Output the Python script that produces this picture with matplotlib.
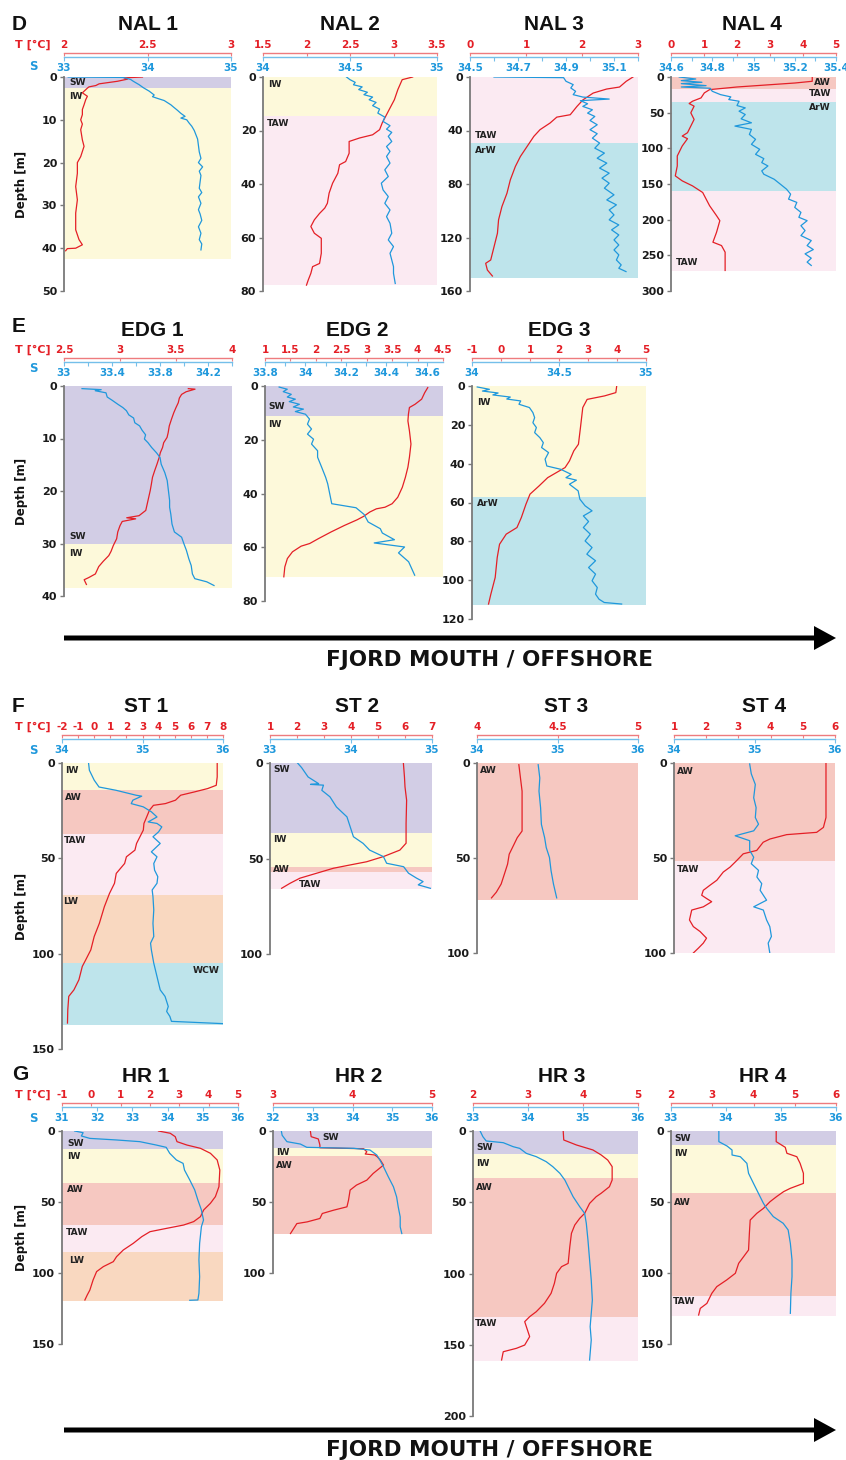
import matplotlib.pyplot as plt
from matplotlib.patches import FancyArrow
import numpy as np

W, H = 846, 1460
RED = '#e41f26'
BLUE = '#1f98dc'
RED_AX = '#ee7b7e'
BLUE_AX = '#74bfea'
SHADE = {'SW': '#d2cde5', 'IW': '#fdf9da', 'TAW': '#fbeaf2', 'ArW': '#bee4eb',
         'WCW': '#bee4eb', 'AW': '#f6c8c1', 'LW': '#f9d8c0'}

# ---------------- profiles: (depth m, value) ----------------
nal1_t = [(0, 2.47), (0.2, 2.36), (0.5, 2.38), (1.0, 2.32), (1.6, 2.21), (2.0, 2.19), (2.3, 2.15),
          (2.6, 2.14), (3.7, 2.11), (4.5, 2.14), (5.3, 2.13), (6.5, 2.12), (7.6, 2.11), (8.8, 2.11),
          (10, 2.10), (11, 2.11), (12.3, 2.10), (14.7, 2.11), (16.2, 2.12), (18.6, 2.10), (20, 2.08),
          (22.5, 2.08), (25.6, 2.07), (28.7, 2.08), (31.8, 2.07), (35.7, 2.07), (38, 2.09),
          (39.2, 2.11), (40, 2.07), (40.1, 2.02), (40.6, 2.01)]
nal1_s = [(0, 33.05), (0.1, 33.7), (0.3, 33.75), (0.6, 33.8), (1.0, 33.83), (1.8, 33.9), (2.5, 33.95),
          (3.3, 34.02), (4.2, 34.08), (4.6, 34.06), (5.0, 34.12), (5.5, 34.2), (6.0, 34.24),
          (6.5, 34.28), (7.0, 34.31), (7.8, 34.36), (8.5, 34.40), (9.2, 34.45), (9.6, 34.40),
          (10.0, 34.47), (10.8, 34.50), (11.5, 34.53), (12.5, 34.56), (13.5, 34.58), (14.5, 34.60),
          (16, 34.61), (17.5, 34.62), (19, 34.64), (20, 34.61), (21, 34.66), (22, 34.62), (23, 34.64),
          (24.5, 34.63), (26, 34.62), (27, 34.65), (28, 34.61), (29.5, 34.64), (31, 34.61),
          (32, 34.63), (33.5, 34.65), (35, 34.61), (36.5, 34.64), (38, 34.62), (39, 34.65), (40.4, 34.64)]

nal2_t = [(0, 3.22), (1.0, 3.10), (4.7, 3.05), (8.5, 3.01), (12.2, 2.95), (14.7, 2.91), (17.2, 2.87),
          (19.7, 2.84), (21.6, 2.76), (22.8, 2.61), (24.1, 2.49), (28.5, 2.49), (31.6, 2.45),
          (32.8, 2.38), (36, 2.36), (39.7, 2.30), (43.4, 2.26), (47.2, 2.24), (49, 2.21), (51, 2.15),
          (53.4, 2.09), (55.9, 2.05), (58.4, 2.09), (60.3, 2.17), (65.9, 2.17), (69.7, 2.15),
          (70.9, 2.07), (73.4, 2.05), (75.9, 2.02), (77.8, 2.0)]
nal2_s = [(0, 34.48), (1, 34.50), (2, 34.53), (2.9, 34.52), (3.7, 34.57), (4.7, 34.55), (5.7, 34.60),
          (6.6, 34.58), (7.5, 34.63), (8.5, 34.61), (9.5, 34.65), (10.7, 34.63), (12, 34.67),
          (13.5, 34.66), (15, 34.70), (16.6, 34.69), (18.2, 34.73), (19.5, 34.71), (20.7, 34.74),
          (22.2, 34.72), (24.1, 34.74), (26, 34.71), (27.8, 34.73), (29.7, 34.71), (32.2, 34.73),
          (34.7, 34.70), (37.2, 34.72), (39.7, 34.68), (42.2, 34.69), (44.7, 34.72), (47.2, 34.70),
          (49.7, 34.73), (52.2, 34.71), (54.7, 34.73), (58.4, 34.74), (60.9, 34.72), (63.4, 34.75),
          (65.9, 34.73), (68.4, 34.74), (70.9, 34.75), (73.4, 34.75), (77.2, 34.76)]

nal3_t = [(0, 2.91), (3.2, 2.79), (7.5, 2.67), (9, 2.44), (12, 2.20), (17, 2.02), (22, 1.91),
          (28.2, 1.79), (30, 1.55), (34.4, 1.43), (39.4, 1.25), (44.4, 1.14), (51.9, 1.02),
          (59.4, 0.90), (66.9, 0.81), (76.9, 0.72), (86.9, 0.66), (96.9, 0.57), (106.8, 0.51),
          (116.8, 0.49), (126.8, 0.43), (136.8, 0.37), (139.3, 0.28), (144.3, 0.31), (148.8, 0.40)]
nal3_s = [(0, 34.60), (0.5, 34.89), (3.2, 34.90), (5.7, 34.93), (8.2, 34.92), (10.7, 34.94),
          (13.2, 34.93), (15, 34.97), (16.5, 35.08), (17.7, 34.96), (20, 34.99), (22, 34.97),
          (24.5, 35.01), (27, 34.99), (29.5, 35.02), (32.5, 35.0), (35.7, 35.03), (39.4, 35.0),
          (42.4, 35.03), (45.7, 35.01), (49.4, 35.04), (53.2, 35.02), (56.9, 35.06), (60.7, 35.03),
          (64.4, 35.07), (68.1, 35.04), (71.9, 35.08), (75.6, 35.05), (79.4, 35.08), (83.1, 35.06),
          (88.1, 35.10), (91.9, 35.07), (95.6, 35.11), (99.4, 35.08), (103.1, 35.10), (106.8, 35.08),
          (110.6, 35.12), (114.3, 35.09), (118.1, 35.12), (121.8, 35.10), (125.6, 35.12),
          (129.3, 35.10), (133, 35.12), (136.8, 35.11), (140.5, 35.13), (143, 35.12), (145.5, 35.15)]

nal4_t = [(0, 4.28), (6, 4.28), (8.4, 3.76), (14, 2.0), (17.7, 1.17), (22.3, 1.01), (29.3, 0.91),
          (34, 0.65), (37.2, 0.55), (40.9, 0.70), (50.2, 0.60), (59.5, 0.70), (78.1, 0.50),
          (82.8, 0.34), (86.5, 0.50), (96.7, 0.34), (110.7, 0.19), (124.7, 0.19), (138.6, 0.13),
          (145.6, 0.34), (152.6, 0.65), (161.9, 0.96), (180.5, 1.17), (194.4, 1.38), (201.4, 1.48),
          (217.7, 1.38), (231.6, 1.27), (236.3, 1.53), (245.6, 1.64), (271.2, 1.64)]
nal4_s = [(0, 34.64), (2.8, 34.72), (5.1, 34.65), (7.4, 34.75), (9.3, 34.65), (12.1, 34.77),
          (14, 34.65), (15.8, 34.79), (20, 34.80), (24.7, 34.84), (27.9, 34.89), (31.6, 34.88),
          (34, 34.93), (40, 34.92), (43.3, 34.96), (47.9, 34.93), (52.6, 34.96), (58.6, 34.94),
          (64.2, 34.99), (68.8, 34.91), (73.5, 34.99), (80.5, 34.98), (87.4, 35.01), (94.4, 34.99),
          (101.4, 35.03), (108.4, 35.01), (114.4, 35.05), (120, 35.04), (124.7, 35.07),
          (131.6, 35.04), (136.3, 35.05), (143.3, 35.10), (150.2, 35.13), (157.2, 35.16),
          (164.2, 35.18), (171.2, 35.17), (175.8, 35.21), (182.8, 35.20), (189.8, 35.23),
          (196.7, 35.22), (201.4, 35.26), (208.4, 35.23), (215.3, 35.25), (222.3, 35.23),
          (229.3, 35.28), (236.3, 35.26), (241.9, 35.29), (247.9, 35.25), (254, 35.28),
          (259.5, 35.26), (264.2, 35.28)]

edg1_t = [(0.5, 3.61), (0.6, 3.67), (1.1, 3.59), (1.6, 3.55), (2.3, 3.53), (3.2, 3.52), (4.1, 3.50),
          (5.1, 3.48), (6.3, 3.46), (7.6, 3.44), (8.9, 3.43), (9.8, 3.42), (10.8, 3.39), (11.7, 3.38),
          (12.7, 3.36), (13.6, 3.35), (14.9, 3.33), (16.1, 3.31), (17.4, 3.29), (18.7, 3.28),
          (19.9, 3.27), (21.8, 3.25), (23.7, 3.23), (24.7, 3.17), (25.1, 3.06), (25.3, 3.14),
          (25.8, 3.02), (26.6, 3.0), (27.8, 2.98), (29.1, 2.97), (30.4, 2.94), (31.5, 2.92),
          (32.3, 2.90), (33.4, 2.85), (34.4, 2.81), (35.8, 2.78), (36.5, 2.72), (36.9, 2.68), (37.8, 2.70)]
edg1_s = [(0.5, 33.15), (0.7, 33.31), (0.9, 33.26), (1.3, 33.35), (2.1, 33.36), (2.7, 33.40),
          (3.5, 33.45), (4.1, 33.49), (4.7, 33.52), (5.5, 33.54), (6.1, 33.58), (7.0, 33.59),
          (7.6, 33.63), (8.4, 33.65), (9.3, 33.68), (10.1, 33.67), (10.8, 33.70), (11.7, 33.73),
          (12.7, 33.77), (13.6, 33.80), (14.9, 33.81), (16.5, 33.84), (18, 33.86), (19.9, 33.87),
          (21.8, 33.88), (23.1, 33.88), (24.4, 33.89), (26.3, 33.90), (27.8, 33.92), (28.8, 33.98),
          (30.1, 34.0), (31.3, 34.02), (32.9, 34.04), (34.2, 34.06), (35.8, 34.07), (36.7, 34.09),
          (37.3, 34.19), (38, 34.25)]

edg2_t = [(0.6, 4.20), (2.5, 4.14), (4.9, 4.08), (6.8, 3.95), (8.0, 3.84), (10.5, 3.82), (13.0, 3.81),
          (16.7, 3.84), (21.6, 3.87), (26.5, 3.84), (30.2, 3.81), (34, 3.76), (37.7, 3.70),
          (41.4, 3.61), (43.8, 3.50), (45.1, 3.36), (45.7, 3.19), (46.9, 3.06), (48.5, 2.94),
          (49.8, 2.81), (51.9, 2.56), (54.3, 2.30), (56.8, 2.05), (58.6, 1.88), (59.6, 1.71),
          (61.7, 1.54), (64.2, 1.44), (67.3, 1.39), (71, 1.37)]
edg2_s = [(0.4, 33.87), (1.2, 33.91), (2.1, 33.89), (3.1, 33.93), (4.1, 33.91), (4.9, 33.95),
          (5.8, 33.92), (6.8, 33.97), (7.8, 33.94), (8.6, 33.99), (9.5, 33.95), (10.5, 34.0),
          (12.3, 34.02), (14.2, 34.01), (16, 34.03), (17.9, 34.01), (19.8, 34.04), (21.6, 34.03),
          (24.1, 34.06), (26.5, 34.06), (30.2, 34.08), (34, 34.10), (36.4, 34.11), (40.1, 34.12),
          (43.8, 34.13), (45.3, 34.25), (47.8, 34.29), (50.6, 34.31), (53.1, 34.37), (54.7, 34.38),
          (57.2, 34.44), (58.4, 34.34), (59.9, 34.49), (62.1, 34.46), (65.4, 34.51), (70.4, 34.54)]

edg3_t = [(0, 3.99), (3.4, 3.96), (5.1, 3.57), (6.9, 2.97), (11.1, 2.82), (21.4, 2.74), (30, 2.67),
          (33.4, 2.51), (38.6, 2.36), (42, 2.21), (44.6, 1.91), (47.2, 1.61), (51.5, 1.31),
          (55.7, 1.0), (60.9, 0.86), (67.8, 0.70), (72.9, 0.55), (76.3, 0.18), (81.5, -0.05),
          (88.3, -0.13), (98.6, -0.20), (107.2, -0.35), (112.3, -0.43)]
edg3_s = [(0.5, 34.03), (1.7, 34.10), (2.6, 34.06), (3.6, 34.15), (4.6, 34.12), (5.7, 34.22),
          (6.7, 34.20), (7.7, 34.28), (9.4, 34.27), (11.1, 34.33), (13.7, 34.35), (16.3, 34.36),
          (18.9, 34.35), (21.4, 34.37), (24, 34.36), (26.6, 34.39), (29.2, 34.41), (31.7, 34.40),
          (34.3, 34.44), (37.7, 34.42), (41.2, 34.43), (42.9, 34.51), (45.5, 34.57), (47.2, 34.54),
          (48.5, 34.60), (50.6, 34.56), (54, 34.61), (58.3, 34.62), (61.7, 34.65), (64.3, 34.69),
          (66.9, 34.64), (69.8, 34.67), (72.9, 34.64), (76.3, 34.68), (79.8, 34.65), (83.2, 34.69),
          (86.6, 34.66), (90, 34.71), (93.5, 34.67), (96.9, 34.71), (100.3, 34.69), (103.8, 34.72),
          (107.2, 34.71), (109.8, 34.73), (111.5, 34.76), (112.3, 34.86)]

st1_t = [(0, 7.64), (7.3, 7.64), (11.7, 7.58), (13.4, 7.05), (15.2, 6.21), (16.9, 5.37), (19.5, 5.05),
         (21.3, 4.42), (22.2, 3.68), (24.8, 3.43), (28.3, 3.26), (31.7, 3.09), (35.2, 3.05),
         (38.7, 2.84), (42.2, 2.63), (45.7, 2.53), (49.2, 2.0), (52.7, 1.89), (57.9, 1.37),
         (63.1, 1.26), (68.4, 0.95), (75.4, 0.63), (84.1, 0.32), (91, 0.0), (98, -0.21),
         (103.3, -0.53), (106.7, -0.74), (113.7, -0.95), (119, -1.26), (122.4, -1.58),
         (129.4, -1.64), (136.4, -1.66)]
st1_s = [(0, 34.33), (3.8, 34.34), (9, 34.40), (12.6, 34.46), (14.3, 34.67), (16.9, 34.92),
         (17.4, 34.99), (19.5, 34.88), (21.3, 34.86), (23, 35.01), (25.6, 35.11), (28.3, 35.18),
         (30.9, 35.07), (31.7, 35.18), (33.5, 35.24), (36.1, 35.20), (38.7, 35.13), (42.2, 35.22),
         (46.6, 35.11), (49.2, 35.18), (52.7, 35.14), (56.2, 35.15), (59.6, 35.19), (63.1, 35.18),
         (66.6, 35.12), (70.1, 35.13), (77.1, 35.14), (84.1, 35.13), (91, 35.14), (94.5, 35.10),
         (98, 35.11), (105, 35.14), (112, 35.18), (119, 35.22), (122.4, 35.28), (127.7, 35.32),
         (130.3, 35.30), (132.9, 35.34), (135.5, 35.36), (136.7, 36.0)]

st2_t = [(0, 5.94), (7.3, 5.98), (12.5, 6.0), (19.5, 6.06), (31.7, 6.04), (42, 6.04), (45.6, 5.81),
         (49, 5.20), (51.7, 4.58), (53.4, 3.96), (55.1, 3.35), (57.7, 2.73), (60.3, 2.11),
         (63, 1.74), (65.6, 1.43)]
st2_s = [(0, 33.34), (2.4, 33.39), (7.3, 33.47), (10.8, 33.60), (11.2, 33.50), (11.6, 33.66),
         (14.3, 33.64), (17.7, 33.74), (23, 33.82), (28.2, 33.95), (33.4, 33.99), (38.6, 34.03),
         (42.1, 34.15), (45.6, 34.23), (49, 34.40), (52.5, 34.44), (54.3, 34.65), (57.7, 34.71),
         (60.3, 34.81), (62.1, 34.89), (63.8, 34.83), (65.6, 34.98)]

st3_t = [(0.9, 4.26), (7.9, 4.27), (14.8, 4.28), (23.6, 4.28), (35.8, 4.28), (39.3, 4.25),
         (42.8, 4.23), (48, 4.20), (53.2, 4.19), (58.5, 4.17), (63.7, 4.15), (68, 4.12), (71, 4.09)]
st3_s = [(0.9, 34.76), (7.9, 34.78), (14.8, 34.77), (23.6, 34.79), (32.3, 34.80), (39.3, 34.84),
         (44.5, 34.86), (49.7, 34.90), (56.7, 34.92), (63.7, 34.95), (71, 34.99)]

st4_t = [(0, 5.72), (14.8, 5.72), (28.7, 5.72), (33.9, 5.64), (36.5, 5.43), (37.7, 4.5), (40, 3.98),
         (41.7, 3.77), (46, 3.57), (47.8, 3.15), (51.3, 2.95), (54.8, 2.74), (57.4, 2.53),
         (61.7, 2.33), (64.3, 2.12), (67, 1.91), (69.6, 1.86), (71.3, 2.01), (73, 2.17), (75.7, 1.91),
         (77.4, 1.55), (82.6, 1.48), (86.1, 1.60), (88.7, 1.81), (92.2, 2.01), (94.8, 1.91),
         (97.4, 1.76), (100, 1.60)]
st4_s = [(0.5, 34.94), (5.7, 34.96), (11.3, 35.01), (18.3, 34.99), (23.5, 35.02), (28.7, 35.01),
         (32.2, 35.05), (35.7, 34.99), (38.3, 34.76), (40.9, 34.94), (46, 34.94), (49.6, 34.99),
         (53, 34.96), (56.5, 35.05), (60, 35.03), (63.5, 35.09), (67, 35.07), (72.2, 35.15),
         (75.7, 34.99), (77.4, 35.11), (82.6, 35.15), (86.1, 35.19), (91.3, 35.21), (94.8, 35.17),
         (100, 35.19)]

hr1_t = [(0, 2.29), (1.6, 2.69), (4, 2.86), (7.5, 2.92), (9.9, 3.26), (12.2, 3.72), (15.7, 4.06),
         (20.4, 4.29), (27.5, 4.38), (39.2, 4.35), (46.2, 4.23), (50.9, 4.06), (55.6, 3.83),
         (60.3, 3.72), (63.8, 3.49), (66.2, 3.15), (68.5, 2.58), (70.9, 2.0), (74.4, 1.72),
         (79.1, 1.43), (83.8, 1.09), (88.5, 0.86), (92, 0.75), (95.5, 0.41), (99, 0.18),
         (104.9, 0.06), (112, -0.05), (115.5, -0.14), (119, -0.22)]
hr1_s = [(0, 31.36), (1.2, 31.60), (3.5, 31.55), (5.2, 31.79), (6.3, 32.54), (7.5, 33.21),
         (9.9, 33.68), (11.5, 33.96), (15.7, 34.06), (20.4, 34.25), (22.8, 34.44), (27.5, 34.48),
         (34.5, 34.63), (41.5, 34.77), (48.6, 34.86), (55.6, 34.96), (62.7, 35.02), (67.4, 34.96),
         (79.1, 34.91), (90.8, 34.89), (102.6, 34.91), (114.3, 34.89), (119, 34.86), (119.2, 34.63)]

hr2_t = [(0, 3.47), (4, 3.48), (5.6, 3.57), (9.9, 3.59), (11.8, 3.59), (12.5, 4.14), (14.6, 4.18),
         (16.2, 4.16), (16.9, 4.28), (18.1, 4.31), (20.5, 4.35), (24, 4.39), (29.9, 4.26),
         (34.6, 4.18), (38.1, 4.05), (41.6, 3.97), (48.7, 3.95), (53.4, 3.93), (55.8, 3.76),
         (58.1, 3.62), (61.6, 3.59), (64, 3.43), (65.2, 3.30), (68.7, 3.26), (72.2, 3.22)]
hr2_s = [(0, 32.21), (3, 32.23), (7.5, 32.35), (9.2, 32.69), (11.5, 32.85), (12.2, 34.03),
         (13.4, 34.44), (16.9, 34.61), (20.5, 34.69), (25.2, 34.78), (32.2, 34.90), (39.3, 35.03),
         (46.4, 35.11), (53.4, 35.15), (60.5, 35.20), (67.5, 35.20), (72.2, 35.24)]

hr3_t = [(0, 3.64), (6.3, 3.65), (9.8, 3.88), (13.3, 4.18), (16.8, 4.33), (20.4, 4.45), (25, 4.53),
         (34.4, 4.53), (39.1, 4.48), (43.7, 4.33), (46.1, 4.24), (50.8, 4.12), (57.8, 4.03),
         (61.3, 3.94), (66, 3.85), (71.8, 3.79), (81.2, 3.76), (92.9, 3.73), (95.2, 3.61),
         (99.9, 3.52), (106.9, 3.48), (113.9, 3.42), (120.9, 3.30), (126.8, 3.15), (130.3, 3.03),
         (133.8, 2.94), (137.3, 2.97), (144.3, 3.03), (150.2, 2.94), (152.5, 2.79), (154.9, 2.55),
         (160.7, 2.52)]
hr3_s = [(0, 33.13), (4, 33.18), (7, 33.24), (8.2, 33.55), (11, 33.73), (12.2, 33.85), (15.7, 33.97),
         (18, 34.15), (21.5, 34.33), (25, 34.45), (29.7, 34.58), (34.4, 34.67), (39.1, 34.73),
         (46.1, 34.82), (53.1, 34.94), (57.8, 35.03), (64.8, 35.06), (76.5, 35.09), (90.5, 35.12),
         (104.6, 35.15), (118.6, 35.17), (128, 35.15), (137.3, 35.13), (146.7, 35.15), (160.7, 35.12)]

hr4_t = [(0, 4.55), (7.5, 4.55), (11.5, 4.77), (15.7, 4.81), (18.1, 5.05), (22.8, 5.13), (29.8, 5.21),
         (36.9, 5.21), (40.4, 4.89), (42.7, 4.73), (46.2, 4.56), (49.8, 4.40), (54.5, 4.24),
         (58, 4.08), (62.7, 3.92), (72.1, 3.90), (83.8, 3.88), (88.5, 3.76), (93.2, 3.64),
         (100.2, 3.56), (104.9, 3.35), (109.6, 3.11), (114.3, 2.99), (121.4, 2.87), (124.9, 2.71),
         (129.6, 2.67)]
hr4_s = [(0, 33.87), (7.5, 33.87), (10.6, 34.02), (13.4, 34.11), (16.9, 34.11), (18.1, 34.26),
         (22.8, 34.38), (29.8, 34.41), (36.9, 34.50), (43.9, 34.59), (50.9, 34.68), (54.5, 34.74),
         (60.3, 34.86), (65, 35.04), (69.7, 35.13), (79.1, 35.17), (90.8, 35.20), (102.6, 35.20),
         (114.3, 35.18), (128.4, 35.17)]

# ---------------- water-mass layers (top, bottom, name) ----------------
nal1_layers = [(0, 2.6, 'SW'), (2.6, 42.6, 'IW')]
nal2_layers = [(0, 14.5, 'IW'), (14.5, 77.8, 'TAW')]
nal3_layers = [(0, 49.4, 'TAW'), (49.4, 150, 'ArW')]
nal4_layers = [(0, 16.7, 'AW'), (16.7, 35, 'TAW'), (35, 160.5, 'ArW'), (160.5, 272, 'TAW')]
edg1_layers = [(0, 30, 'SW'), (30, 38.5, 'IW')]
edg2_layers = [(0, 11.1, 'SW'), (11.1, 71, 'IW')]
edg3_layers = [(0, 57, 'IW'), (57, 113, 'ArW')]
st1_layers = [(0, 14.3, 'IW'), (14.3, 37, 'AW'), (37, 69.2, 'TAW'), (69.2, 105, 'LW'), (105, 137.3, 'WCW')]
st2_layers = [(0, 36.9, 'SW'), (36.9, 54.6, 'IW'), (54.6, 56.9, 'AW'), (56.9, 66, 'TAW')]
st3_layers = [(0, 71.9, 'AW')]
st4_layers = [(0, 51.5, 'AW'), (51.5, 100, 'TAW')]
hr1_layers = [(0, 12.9, 'SW'), (12.9, 36.4, 'IW'), (36.4, 66.2, 'AW'), (66.2, 85.4, 'TAW'), (85.4, 119.5, 'LW')]
hr2_layers = [(0, 11.8, 'SW'), (11.8, 17.6, 'IW'), (17.6, 72.7, 'AW')]
hr3_layers = [(0, 16.4, 'SW'), (16.4, 33.2, 'IW'), (33.2, 130.8, 'AW'), (130.8, 161.4, 'TAW')]
hr4_layers = [(0, 9.9, 'SW'), (9.9, 43.4, 'IW'), (43.4, 116, 'AW'), (116, 130, 'TAW')]

# label text, x (axes fraction), depth, alignment
nal1_labels = [('SW', 0.03, 1.3, 'left'), ('IW', 0.03, 4.5, 'left')]
nal2_labels = [('IW', 0.03, 2.9, 'left'), ('TAW', 0.02, 17.2, 'left')]
nal3_labels = [('TAW', 0.03, 43.7, 'left'), ('ArW', 0.03, 55.2, 'left')]
nal4_labels = [('AW', 0.97, 8.4, 'right'), ('TAW', 0.97, 23.7, 'right'), ('ArW', 0.97, 43, 'right'),
               ('TAW', 0.03, 259.5, 'left')]
edg1_labels = [('SW', 0.03, 28.6, 'left'), ('IW', 0.03, 32, 'left')]
edg2_labels = [('SW', 0.02, 7.8, 'left'), ('IW', 0.02, 14.2, 'left')]
edg3_labels = [('IW', 0.03, 8.6, 'left'), ('ArW', 0.03, 60.5, 'left')]
st1_labels = [('IW', 0.02, 3.8, 'left'), ('AW', 0.02, 18.3, 'left'), ('TAW', 0.01, 40.5, 'left'),
              ('LW', 0.01, 72.8, 'left'), ('WCW', 0.98, 108.9, 'right')]
st2_labels = [('SW', 0.02, 3.5, 'left'), ('IW', 0.02, 39.8, 'left'), ('AW', 0.02, 56, 'left'),
              ('TAW', 0.18, 63.5, 'left')]
st3_labels = [('AW', 0.02, 4, 'left')]
st4_labels = [('AW', 0.02, 4.3, 'left'), ('TAW', 0.02, 56.2, 'left')]
hr1_labels = [('SW', 0.03, 8.7, 'left'), ('IW', 0.03, 18, 'left'), ('AW', 0.03, 41, 'left'),
              ('TAW', 0.02, 71.6, 'left'), ('LW', 0.04, 91.5, 'left')]
hr2_labels = [('SW', 0.31, 4.7, 'left'), ('IW', 0.02, 14.8, 'left'), ('AW', 0.02, 24.2, 'left')]
hr3_labels = [('SW', 0.02, 11.5, 'left'), ('IW', 0.02, 22.8, 'left'), ('AW', 0.02, 39.5, 'left'),
              ('TAW', 0.01, 135.4, 'left')]
hr4_labels = [('SW', 0.02, 5, 'left'), ('IW', 0.02, 15.5, 'left'), ('AW', 0.02, 50.2, 'left'),
              ('TAW', 0.01, 120.4, 'left')]

fig = plt.figure(figsize=(W / 100, H / 100), dpi=100)
ov = fig.add_axes([0, 0, 1, 1])
ov.set_xlim(0, W)
ov.set_ylim(H, 0)
ov.axis('off')


def fmt(v):
    return f'{v:g}'


def mm(a, b, step):
    return list(np.round(np.arange(a, b + step / 2, step), 3))


def panel(geom, dticks, trng, tticks, srng, sticks, sminor, t_prof, s_prof,
          layers, labels, t_off, s_off, box=1.0):
    x0, x1, y0, y1 = geom
    hpx = y1 - y0
    ax = fig.add_axes([x0 / W, 1 - y1 / H, (x1 - x0) / W, hpx / H])
    ax.patch.set_visible(False)
    ax.set_xlim(0, 1)
    ax.set_ylim(dticks[-1], 0)
    for top, bot, name in layers:
        ax.axhspan(top, bot, xmin=0, xmax=box, color=SHADE[name], lw=0, zorder=0)
    for txt, xf, d, ha in labels:
        ax.text(xf, d, txt, transform=ax.get_yaxis_transform(), ha=ha, va='center',
                fontsize=6.6, fontweight='bold', color='#222222', zorder=5)
    for s in ['top', 'right', 'bottom']:
        ax.spines[s].set_visible(False)
    ax.spines['left'].set_color('#7a7a7a')
    ax.spines['left'].set_linewidth(1.3)
    ax.set_xticks([])
    ax.set_yticks(dticks, labels=[fmt(v) for v in dticks], fontweight='bold')
    ax.tick_params(axis='y', length=3, width=1, color='#7a7a7a', labelsize=8, pad=2,
                   labelcolor='#1a1a1a')

    # temperature on its own top axis
    tz, tv = np.array(t_prof).T
    axt = ax.twiny()
    axt.set_xlim(*trng)
    axt.plot(tv, tz, color=RED, lw=0.9, zorder=3)
    for s in ['bottom', 'left', 'right']:
        axt.spines[s].set_visible(False)
    axt.spines['top'].set_position(('outward', t_off * 0.72))
    axt.spines['top'].set_color(RED_AX)
    axt.spines['top'].set_linewidth(1.0)
    axt.set_xticks(tticks, labels=[fmt(v) for v in tticks], fontweight='bold')
    axt.tick_params(axis='x', direction='in', length=2.5, width=0.8, color=RED_AX,
                    labelcolor=RED, labelsize=7.5, pad=2)

    # salinity on a second axis just below it
    sz, sv = np.array(s_prof).T
    axs = ax.twiny()
    axs.set_xlim(*srng)
    axs.plot(sv, sz, color=BLUE, lw=0.9, zorder=3)
    for s in ['top', 'left', 'right']:
        axs.spines[s].set_visible(False)
    axs.spines['bottom'].set_visible(True)
    axs.spines['bottom'].set_position(('axes', 1 + s_off / hpx))
    axs.spines['bottom'].set_color(BLUE_AX)
    axs.spines['bottom'].set_linewidth(1.0)
    axs.xaxis.set_ticks_position('bottom')
    axs.set_xticks(sticks, labels=[fmt(v) for v in sticks], fontweight='bold')
    if sminor:
        axs.set_xticks(sminor, minor=True)
    axs.tick_params(axis='x', which='both', direction='out', length=3, width=0.8, color=BLUE_AX,
                    labelcolor=BLUE, labelsize=7.5, pad=1.5)
    return ax


# ---- row D: NAL ----
panel((64, 231, 77, 291), mm(0, 50, 10), (2, 3), [2, 2.5, 3], (33, 35), [33, 34, 35], None,
      nal1_t, nal1_s, nal1_layers, nal1_labels, 24, 20)
panel((263, 437, 77, 291), mm(0, 80, 20), (1.5, 3.5), mm(1.5, 3.5, 0.5), (34, 35),
      [34, 34.5, 35], None, nal2_t, nal2_s, nal2_layers, nal2_labels, 24, 20)
panel((470, 638, 77, 291), mm(0, 160, 40), (0, 3), [0, 1, 2, 3], (34.5, 35.2),
      [34.5, 34.7, 34.9, 35.1], mm(34.5, 35.2, 0.1), nal3_t, nal3_s, nal3_layers, nal3_labels, 24, 20)
panel((671, 836, 77, 291), mm(0, 300, 50), (0, 5), mm(0, 5, 1), (34.6, 35.4),
      [34.6, 34.8, 35, 35.2, 35.4], mm(34.6, 35.4, 0.1), nal4_t, nal4_s, nal4_layers, nal4_labels, 24, 20)

# ---- row E: EDG ----
panel((64, 232, 386, 596), mm(0, 40, 10), (2.5, 4), [2.5, 3, 3.5, 4], (33, 34.4),
      [33, 33.4, 33.8, 34.2], mm(33, 34.4, 0.2), edg1_t, edg1_s, edg1_layers, edg1_labels, 28, 24)
panel((265, 443, 386, 601), mm(0, 80, 20), (1, 4.5), mm(1, 4.5, 0.5), (33.8, 34.68),
      [33.8, 34, 34.2, 34.4, 34.6], mm(33.8, 34.6, 0.1), edg2_t, edg2_s, edg2_layers, edg2_labels, 28, 24)
panel((472, 646, 386, 619), mm(0, 120, 20), (-1, 5), mm(-1, 5, 1), (34, 35),
      [34, 34.5, 35], None, edg3_t, edg3_s, edg3_layers, edg3_labels, 28, 24)

# ---- row F: ST ----
panel((62, 223, 763, 1049), mm(0, 150, 50), (-2, 8), mm(-2, 8, 1), (34, 36), [34, 35, 36], None,
      st1_t, st1_s, st1_layers, st1_labels, 28, 24)
panel((270, 432, 763, 954), mm(0, 100, 50), (1, 7), mm(1, 7, 1), (33, 35), [33, 34, 35], None,
      st2_t, st2_s, st2_layers, st2_labels, 28, 24)
panel((477, 638, 763, 953), mm(0, 100, 50), (4, 5), [4, 4.5, 5], (34, 36), [34, 35, 36], None,
      st3_t, st3_s, st3_layers, st3_labels, 28, 24)
panel((674, 835, 763, 953), mm(0, 100, 50), (1, 6), mm(1, 6, 1), (34, 36), [34, 35, 36], None,
      st4_t, st4_s, st4_layers, st4_labels, 28, 24)

# ---- row G: HR ----
panel((62, 238, 1131, 1344), mm(0, 150, 50), (-1, 5), mm(-1, 5, 1), (31, 36), mm(31, 36, 1), None,
      hr1_t, hr1_s, hr1_layers, hr1_labels, 28, 24, box=0.915)
panel((273, 432, 1131, 1273), mm(0, 100, 50), (3, 5), [3, 4, 5], (32, 36), mm(32, 36, 1), None,
      hr2_t, hr2_s, hr2_layers, hr2_labels, 28, 24)
panel((473, 638, 1131, 1416), mm(0, 200, 50), (2, 5), mm(2, 5, 1), (33, 36), mm(33, 36, 1), None,
      hr3_t, hr3_s, hr3_layers, hr3_labels, 28, 24)
panel((671, 836, 1131, 1344), mm(0, 150, 50), (2, 6), mm(2, 6, 1), (33, 36), mm(33, 36, 1), None,
      hr4_t, hr4_s, hr4_layers, hr4_labels, 28, 24)

# ---- titles, row letters, axis names ----
titles = [('NAL 1', 148, 24), ('NAL 2', 350, 24), ('NAL 3', 554, 24), ('NAL 4', 752, 24),
          ('EDG 1', 152, 330), ('EDG 2', 357, 330), ('EDG 3', 559, 330),
          ('ST 1', 146, 707), ('ST 2', 357, 707), ('ST 3', 566, 707), ('ST 4', 764, 707),
          ('HR 1', 146, 1076), ('HR 2', 359, 1076), ('HR 3', 562, 1076), ('HR 4', 763, 1076)]
for txt, x, y in titles:
    ov.text(x, y, txt, ha='center', va='center', fontsize=15, fontweight='bold',
            family='Liberation Sans', color='#111111')

for txt, y in [('D', 24), ('E', 327), ('F', 707), ('G', 1075)]:
    ov.text(12, y, txt, ha='left', va='center', fontsize=15, fontweight='bold',
            family='Liberation Sans', color='#111111')

for yt, ys, yc in [(45, 66, 184), (350, 369, 491), (727, 750, 906), (1095, 1118, 1237)]:
    ov.text(33, yt, 'T [°C]', ha='center', va='center', fontsize=8, fontweight='bold', color=RED)
    ov.text(33, ys, 'S', ha='center', va='center', fontsize=8.5, fontweight='bold', color=BLUE)
    ov.text(22, yc, 'Depth [m]', ha='center', va='center', rotation=90, fontsize=8.5,
            fontweight='bold', color='#111111')

# ---- direction arrows ----
for ya, yt in [(638, 660), (1430, 1450)]:
    ov.add_patch(FancyArrow(64, ya, 772, 0, width=5, head_width=24, head_length=22,
                            length_includes_head=True, color='black', lw=0))
    ov.text(489, yt, 'FJORD MOUTH / OFFSHORE', ha='center', va='center', fontsize=15.5,
            fontweight='bold', color='#111111')

fig.savefig('out.png', dpi=100)
